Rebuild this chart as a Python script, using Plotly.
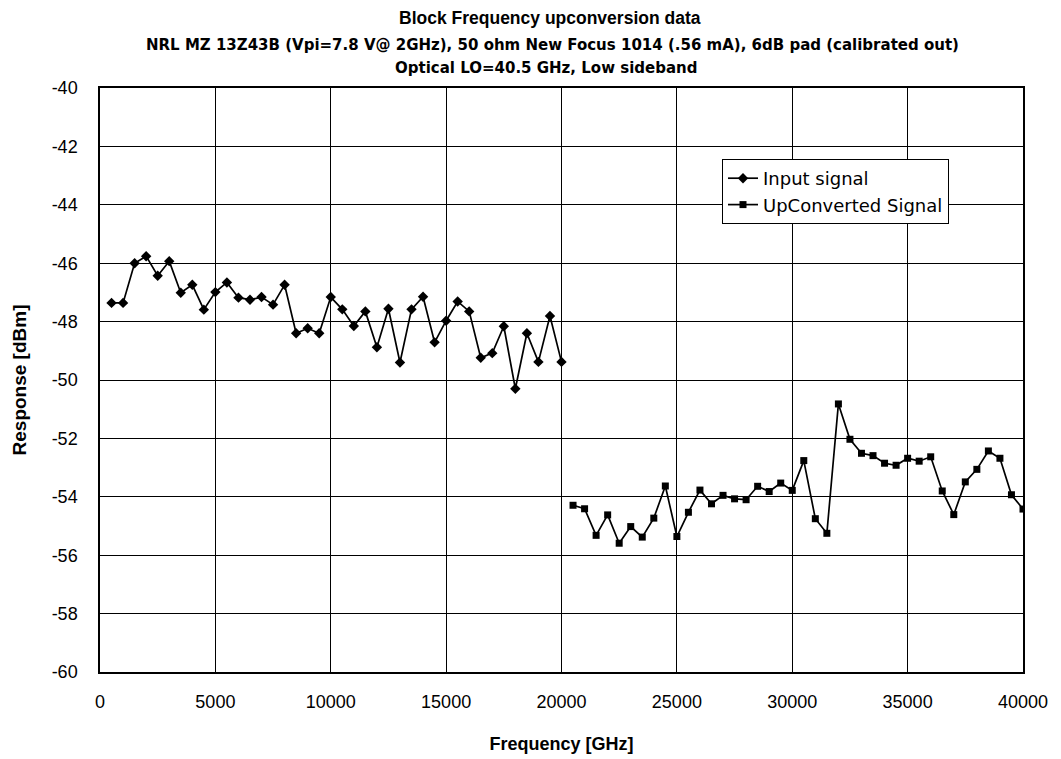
import plotly.graph_objects as go

input_freq = [500 * i for i in range(1, 41)]
input_resp = [-47.36, -47.36, -46.0, -45.76, -46.43, -45.93, -47.01, -46.74, -47.59, -46.99,
              -46.66, -47.18, -47.25, -47.16, -47.42, -46.74, -48.40, -48.23, -48.40, -47.16,
              -47.58, -48.15, -47.65, -48.88, -47.56, -49.40, -47.58, -47.15, -48.71, -47.97,
              -47.31, -47.65, -49.24, -49.08, -48.16, -50.30, -48.40, -49.38, -47.81, -49.38]

up_freq = [20000 + 500 * i for i in range(1, 41)]
up_resp = [-54.29, -54.41, -55.32, -54.62, -55.59, -55.02, -55.38, -54.73, -53.63, -55.36,
           -54.53, -53.77, -54.24, -53.95, -54.07, -54.10, -53.64, -53.82, -53.53, -53.78,
           -52.76, -54.75, -55.25, -50.82, -52.03, -52.51, -52.59, -52.85, -52.92, -52.68,
           -52.78, -52.63, -53.80, -54.61, -53.49, -53.06, -52.43, -52.68, -53.93, -54.42]

y_ticks = [-60, -58, -56, -54, -52, -50, -48, -46, -44, -42, -40]
y_tick_text = ["-60", "-58", "-56", "-54", "-52", "-50", "-48", "-46", "-44", "-42", "-40"]
x_ticks = [0, 5000, 10000, 15000, 20000, 25000, 30000, 35000, 40000]
x_tick_text = ["0", "5000", "10000", "15000", "20000", "25000", "30000", "35000", "40000"]

title = "Block Frequency upconversion data"
subtitle1 = "NRL MZ 13Z43B (Vpi=7.8 V@ 2GHz), 50 ohm New Focus 1014 (.56 mA), 6dB pad (calibrated out)"
subtitle2 = "Optical LO=40.5 GHz, Low sideband"

FONT = "Liberation Sans, Arial, sans-serif"
WIDE = "DejaVu Sans, sans-serif"

# page has an 8px body margin; figure coordinates are page coordinates minus 8
OFF = 8
W, H = 1053, 751
L, R, T, B = 100 - OFF, 38, 88 - OFF, 87
plot_w = W - L - R
plot_h = H - T - B


def px(xpage):
    return (xpage - OFF - L) / plot_w


def py(ypage):
    return (H - B - (ypage - OFF)) / plot_h


fig = go.Figure()
fig.add_trace(go.Scatter(x=input_freq, y=input_resp, mode="lines+markers", name="Input signal",
                         line=dict(color="black", width=1.7),
                         marker=dict(symbol="diamond", size=8, color="black")))
fig.add_trace(go.Scatter(x=up_freq, y=up_resp, mode="lines+markers", name="UpConverted Signal",
                         line=dict(color="black", width=1.7),
                         marker=dict(symbol="square", size=7, color="black")))

fig.update_layout(
    width=W, height=H,
    margin=dict(l=L, r=R, t=T, b=B),
    paper_bgcolor="white", plot_bgcolor="white",
    font=dict(family=FONT, color="black"),
    showlegend=True,
    legend=dict(x=px(722), y=py(159), xanchor="left", yanchor="top",
                bgcolor="white", bordercolor="black", borderwidth=1,
                font=dict(size=18, family=WIDE), tracegroupgap=0),
    xaxis=dict(range=[0, 40000], tickvals=x_ticks, ticktext=x_tick_text,
               showgrid=True, gridcolor="black", gridwidth=1,
               showline=True, linecolor="black", linewidth=1.5, mirror=True, zeroline=False,
               ticks="", tickfont=dict(size=18, family=FONT), automargin=False,
               ticklabelstandoff=13,
               title=dict(text="<b>Frequency [GHz]</b>", font=dict(size=18, family=FONT), standoff=26)),
    yaxis=dict(range=[-60, -40], tickvals=y_ticks, ticktext=y_tick_text,
               showgrid=True, gridcolor="black", gridwidth=1,
               showline=True, linecolor="black", linewidth=1.5, mirror=True, zeroline=False,
               ticks="", tickfont=dict(size=18, family=FONT), automargin=False,
               ticklabelstandoff=17,
               title=dict(text="<b>Response [dBm]</b>", font=dict(size=19, family=FONT), standoff=20)),
    annotations=[
        dict(text="<b>" + title + "</b>", x=px(550), y=py(18), xref="paper", yref="paper",
             showarrow=False, yanchor="middle", font=dict(size=17.5, family=FONT)),
        dict(text="<b>" + subtitle1 + "</b>", x=px(552), y=py(45), xref="paper", yref="paper",
             showarrow=False, yanchor="middle", font=dict(size=15, family=WIDE)),
        dict(text="<b>" + subtitle2 + "</b>", x=px(546), y=py(68), xref="paper", yref="paper",
             showarrow=False, yanchor="middle", font=dict(size=15, family=WIDE)),
    ],
)

fig.write_html("out.html")
